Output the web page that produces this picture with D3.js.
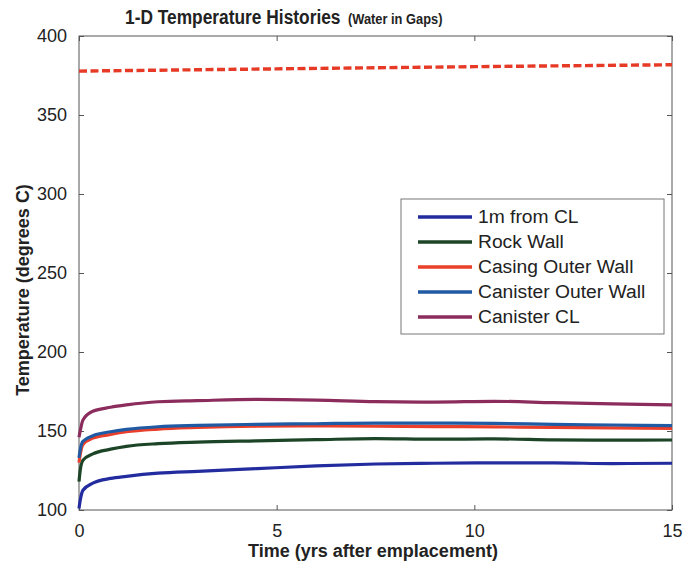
<!DOCTYPE html>
<html>
<head>
<meta charset="utf-8">
<script src="https://cdn.jsdelivr.net/npm/d3@7/dist/d3.min.js"></script>
<style>
  html, body { margin: 0; padding: 0; background: #fff; }
  svg { display: block; font-family: "Liberation Sans", Arial, sans-serif; }
</style>
</head>
<body>
<svg id="chart" width="684" height="565"></svg>
<script>
// Time axis samples (years after emplacement)
const times = [0, 0.03, 0.1, 0.35, 0.8, 1.2, 2, 3, 4.5, 6, 7.5, 9, 10.5, 12, 13.5, 15];

// Temperature histories (degrees C) at each time sample
const oneMeterFromCL    = [101, 106, 112.5, 117, 120, 121.3, 123.3, 124.5, 126.2, 127.9, 129.1, 129.6, 129.8, 129.8, 129.4, 129.6];
const rockWall          = [118, 125, 131.5, 135.5, 138.5, 140.3, 142, 143, 143.8, 144.5, 145.2, 144.8, 145, 144.4, 144.2, 144.3];
const casingOuterWall   = [130, 135, 141.5, 145.5, 147.8, 149.5, 151.2, 152.2, 153, 153.2, 153, 152.8, 152.6, 152.3, 152, 151.7];
const canisterOuterWall = [133, 138, 143.5, 147, 149.5, 151, 152.7, 153.5, 154.2, 154.6, 155, 155, 154.8, 154.2, 153.8, 153.4];
const canisterCL        = [146, 150, 157, 162.5, 165, 166.5, 168.5, 169.2, 170, 169.6, 168.6, 168.3, 168.8, 167.9, 167.2, 166.5];

// Reference level drawn as a dashed line
const limitTimes  = [0, 5, 10, 15];
const limitValues = [377.8, 379.2, 380.6, 381.8];

const seriesNames  = ["1m from CL", "Rock Wall", "Casing Outer Wall", "Canister Outer Wall", "Canister CL"];
const seriesValues = [oneMeterFromCL, rockWall, casingOuterWall, canisterOuterWall, canisterCL];
const seriesColors = ["#232c9e", "#1c4527", "#ea3f2a", "#1f5aa3", "#8b2c5c"];

const xTicks = [0, 5, 10, 15];
const yTicks = [100, 150, 200, 250, 300, 350, 400];

const svg = d3.select("#chart");
const plot = { left: 79, right: 672, top: 36, bottom: 510 };

const x = d3.scaleLinear().domain([0, 15]).range([plot.left, plot.right]);
const y = d3.scaleLinear().domain([100, 400]).range([plot.bottom, plot.top]);

// Plot frame
svg.append("rect")
  .attr("x", plot.left).attr("y", plot.top)
  .attr("width", plot.right - plot.left).attr("height", plot.bottom - plot.top)
  .attr("fill", "#fff").attr("stroke", "#555").attr("stroke-width", 1);

// Axes with inward ticks on all four sides
function styleAxis(g) {
  g.select(".domain").remove();
  g.selectAll(".tick line").attr("stroke", "#555");
  g.selectAll(".tick text").attr("fill", "#222").attr("font-size", 18);
}
svg.append("g").attr("transform", `translate(0,${plot.bottom})`)
  .call(d3.axisBottom(x).tickValues(xTicks).tickSizeInner(-5).tickSizeOuter(0).tickPadding(14))
  .call(styleAxis);
svg.append("g").attr("transform", `translate(0,${plot.top})`)
  .call(d3.axisTop(x).tickValues(xTicks).tickSizeInner(-5).tickSizeOuter(0).tickFormat(""))
  .call(styleAxis);
svg.append("g").attr("transform", `translate(${plot.left},0)`)
  .call(d3.axisLeft(y).tickValues(yTicks).tickSizeInner(-5).tickSizeOuter(0).tickPadding(12))
  .call(styleAxis);
svg.append("g").attr("transform", `translate(${plot.right},0)`)
  .call(d3.axisRight(y).tickValues(yTicks).tickSizeInner(-5).tickSizeOuter(0).tickFormat(""))
  .call(styleAxis);

// Temperature curves
const line = d3.line()
  .x((d, i) => x(times[i]))
  .y(d => y(d))
  .curve(d3.curveMonotoneX);

seriesValues.forEach((vals, k) => {
  svg.append("path")
    .datum(vals)
    .attr("fill", "none")
    .attr("stroke", seriesColors[k])
    .attr("stroke-width", 3.2)
    .attr("stroke-linejoin", "round")
    .attr("d", line);
});

// Dashed reference line
svg.append("path")
  .datum(limitValues)
  .attr("fill", "none")
  .attr("stroke", "#e63a26")
  .attr("stroke-width", 3.4)
  .attr("stroke-dasharray", "8,3.5")
  .attr("d", d3.line().x((d, i) => x(limitTimes[i])).y(d => y(d)));

// Legend
const legend = svg.append("g").attr("transform", "translate(401,199)");
legend.append("rect")
  .attr("width", 263).attr("height", 135)
  .attr("fill", "#fff").attr("stroke", "#777").attr("stroke-width", 1);
seriesNames.forEach((name, k) => {
  const row = legend.append("g").attr("transform", `translate(0,${18 + k * 25})`);
  row.append("line")
    .attr("x1", 17).attr("x2", 71)
    .attr("stroke", seriesColors[k]).attr("stroke-width", 3.5);
  row.append("text")
    .attr("transform", "translate(77,6) scale(1.07,1)")
    .attr("font-size", 18).attr("fill", "#222")
    .text(name);
});

// Titles (condensed bold face)
svg.append("text")
  .attr("transform", "translate(125,24) scale(0.826,1)")
  .attr("font-size", 21).attr("font-weight", "bold").attr("fill", "#222")
  .text("1-D Temperature Histories");
svg.append("text")
  .attr("transform", "translate(348,24) scale(0.857,1)")
  .attr("font-size", 15).attr("font-weight", "bold").attr("fill", "#222")
  .text("(Water in Gaps)");

svg.append("text")
  .attr("x", 373).attr("y", 557)
  .attr("text-anchor", "middle")
  .attr("font-size", 18).attr("font-weight", "bold").attr("fill", "#222")
  .text("Time (yrs after emplacement)");

svg.append("text")
  .attr("transform", "translate(29,290) rotate(-90)")
  .attr("text-anchor", "middle")
  .attr("font-size", 18).attr("font-weight", "bold").attr("fill", "#222")
  .text("Temperature (degrees C)");
</script>
</body>
</html>
